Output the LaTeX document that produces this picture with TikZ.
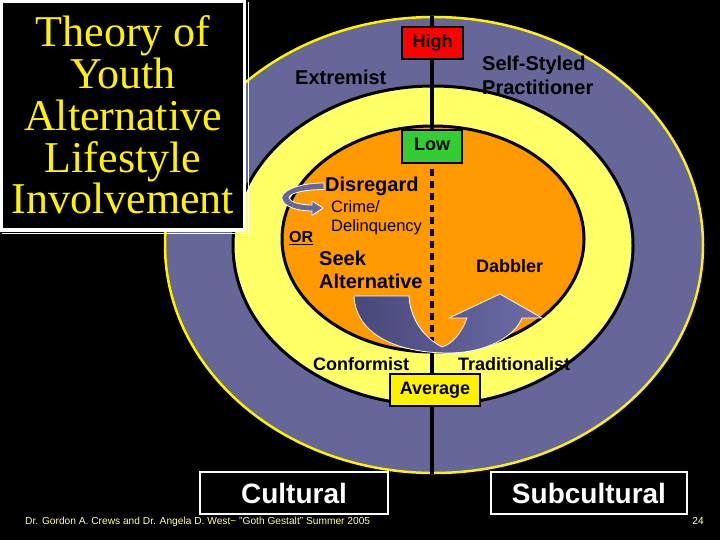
\documentclass[tikz,border=0pt]{standalone}
\usepackage{fontspec}
\setmainfont{Liberation Sans}
\newfontfamily\titlefont{Liberation Serif}
\usetikzlibrary{shapes.geometric}
\definecolor{ring}{RGB}{102,102,153}
\definecolor{paleyellow}{RGB}{255,255,102}
\definecolor{orangefill}{RGB}{255,153,0}
\definecolor{lowgreen}{RGB}{51,204,51}
\definecolor{footyellow}{RGB}{255,255,153}
\definecolor{arrowdark}{RGB}{72,72,122}
\definecolor{arrowlight}{RGB}{108,108,168}
\pgfdeclarelayer{back}
\pgfdeclarelayer{mid}
\pgfsetlayers{back,mid,main}
\begin{document}
\begin{tikzpicture}[x=1pt,y=-1pt,
  lbl/.style={font=\bfseries\fontsize{20}{24}\selectfont, text=black, inner sep=0pt},
  mlbl/.style={font=\bfseries\fontsize{18}{22}\selectfont, text=black, inner sep=0pt},
  slbl/.style={font=\fontsize{16.5}{20}\selectfont, text=black, inner sep=0pt},
  levelbox/.style={draw=black, line width=2.5pt, inner sep=0pt, text=black,
    font=\bfseries\fontsize{18}{22}\selectfont, text height=13pt, text depth=4pt},
  bigbox/.style={draw=white, line width=2pt, fill=black, inner sep=0pt, text=white,
    font=\bfseries\fontsize{28}{32}\selectfont, minimum height=42pt},
  titleline/.style={font=\titlefont\fontsize{44}{44}\selectfont, text=yellow, inner sep=0pt, anchor=base},
  vline/.style={draw=black, line width=3.5pt},
  ribbon/.style={draw=white, line width=0.8pt, fill=ring}
]
\useasboundingbox (0,0) rectangle (720,540);
\begin{pgfonlayer}{back}
  \fill[black] (0,0) rectangle (720,540);
  \node[ellipse, draw=yellow, line width=2.5pt, fill=ring, inner sep=0pt,
        minimum width=538pt, minimum height=456pt] (outer) at (434,245) {};
  \node[ellipse, draw=black, line width=3pt, fill=paleyellow, inner sep=0pt,
        minimum width=400pt, minimum height=319pt] (middle) at (433,245.5) {};
  \node[ellipse, draw=black, line width=3pt, fill=orangefill, inner sep=0pt,
        minimum width=302pt, minimum height=226pt] (inner) at (433,239) {};
\end{pgfonlayer}

% level boxes
\node[levelbox, fill=red, minimum width=61pt, minimum height=32pt] (high) at (432.5,43) {High};
\node[levelbox, fill=lowgreen, minimum width=60pt, minimum height=33pt] (low) at (432,146.5) {Low};
\node[levelbox, fill=yellow, minimum width=90pt, minimum height=32pt] (avg) at (435,390) {Average};

% vertical axis
\begin{pgfonlayer}{mid}
  \draw[vline] (outer.north -| low.north) -- (low.north);
  \draw[vline, dash pattern=on 7pt off 5pt] ([yshift=-5pt]low.south) -- (low.south |- inner.south);
  \draw[vline] (low.south |- inner.south) -- (low.south |- outer.south);
\end{pgfonlayer}

% U-turn arrow
\path[draw=white, line width=0.8pt, left color=arrowdark, right color=arrowlight]
  (354,296) .. controls (356,336) and (400,353) .. (448,353)
  .. controls (487,353) and (515,336) .. (522,318)
  -- (542,318) -- (500,294) -- (449,318) -- (467,318)
  .. controls (461,334) and (452,344) .. (442,347)
  .. controls (421,336) and (410,316) .. (409,296) -- cycle;

% small curved arrow
\path[ribbon]
  (324,183) .. controls (296,183) and (280,192) .. (282,199)
  .. controls (284,207) and (298,211) .. (312,211)
  -- (312,215.5) -- (323,208) -- (312,201) -- (312,205)
  .. controls (300,205) and (290,202) .. (289,198)
  .. controls (289,193) and (305,189.5) .. (324,189.5) -- cycle;

% labels
\node[lbl, anchor=base west] (extremist) at (295,85) {Extremist};
\node[lbl, anchor=base west] (self1) at (482,71) {Self-Styled};
\node[lbl, anchor=base west] (self2) at (482,95) {Practitioner};
\node[lbl, anchor=base west] (disregard) at (325,192) {Disregard};
\node[slbl, anchor=base west] (crime1) at (331,213) {Crime/};
\node[slbl, anchor=base west] (crime2) at (331,232) {Delinquency};
\node[font=\bfseries\fontsize{16}{18}\selectfont, text=black, inner sep=0pt, anchor=base west] (or) at (289,243) {\underline{OR}};
\node[lbl, anchor=base west] (seek1) at (319,265) {Seek};
\node[lbl, anchor=base west] (seek2) at (319,288) {Alternative};
\node[mlbl, anchor=base west] (dabbler) at (476,272) {Dabbler};
\node[mlbl, anchor=base west] (conformist) at (313,370) {Conformist};
\node[mlbl, anchor=base west] (traditionalist) at (458,370) {Traditionalist};

% title block
\draw[draw=white, line width=3pt, fill=black] (1.5,1.5) rectangle (244.5,230);
\draw[draw=white, line width=1pt] (248,2) -- (248,233) -- (2,233);
\node[titleline] (t1) at (123,47) {Theory of};
\node[titleline] (t2) at (123,89) {Youth};
\node[titleline] (t3) at (123,131) {Alternative};
\node[titleline] (t4) at (123,173) {Lifestyle};
\node[titleline] (t5) at (123,214) {Involvement};

% footer
\node[anchor=base west, inner sep=0pt, text=footyellow, font=\fontsize{10.2}{12}\selectfont] (foot) at (25,524)
  {Dr. Gordon A. Crews and Dr. Angela D. West\textasciitilde{} "Goth Gestalt" Summer 2005};
\node[anchor=base east, inner sep=0pt, text=footyellow!40!white, font=\fontsize{10.2}{12}\selectfont] (page) at (704,524) {24};

% bottom boxes
\node[bigbox, minimum width=188pt] (cultural) at (294,493) {Cultural};
\node[bigbox, minimum width=196pt] (subcultural) at (589,493) {Subcultural};
\end{tikzpicture}
\end{document}
